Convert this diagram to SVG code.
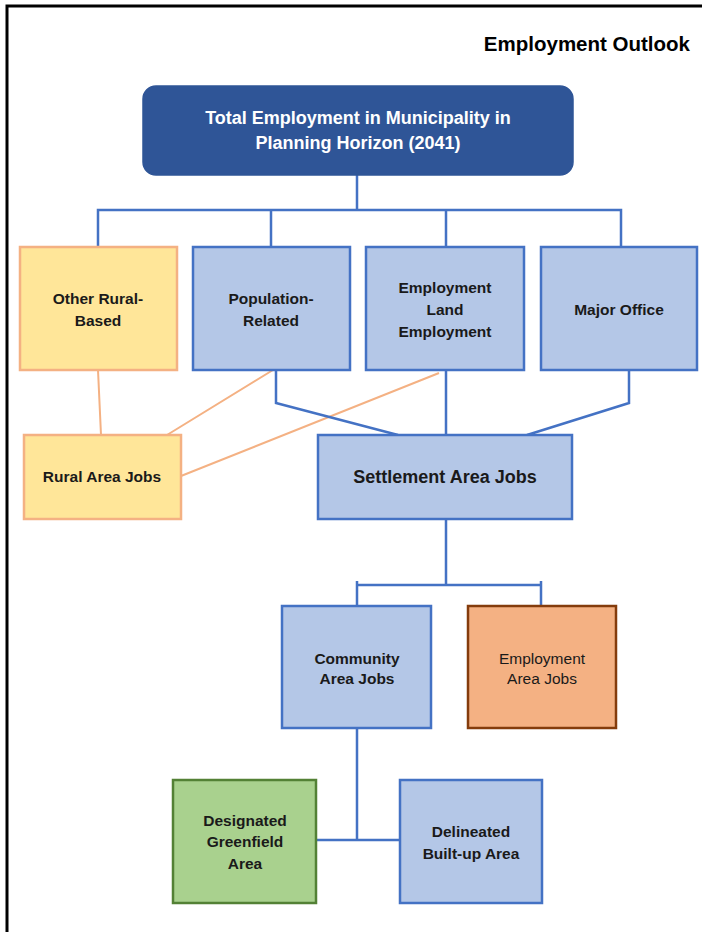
<svg xmlns="http://www.w3.org/2000/svg" width="702" height="932" viewBox="0 0 702 932">
  <style>
    text { font-family: "Liberation Sans", Arial, sans-serif; font-weight: bold; fill: #1a1a1a; text-anchor: middle; }
    .lbl { font-size: 15.5px; }
    .blue { fill: #B4C7E7; stroke: #4472C4; stroke-width: 2.5; }
    .yellow { fill: #FFE699; stroke: #F4B183; stroke-width: 2.5; }
    .orange { fill: #F4B183; stroke: #843C0C; stroke-width: 2.5; }
    .green { fill: #A9D18E; stroke: #538135; stroke-width: 2.5; }
    .link { fill: none; stroke: #4472C4; stroke-width: 2.5; }
    .rural { fill: none; stroke: #F4B183; stroke-width: 2; }
  </style>

  <rect width="702" height="932" fill="#ffffff"/>
  <!-- page frame -->
  <path d="M7 932 V6 H702" fill="none" stroke="#000000" stroke-width="3"/>

  <text x="690" y="51" style="font-size:20.5px; text-anchor:end; fill:#000;">Employment Outlook</text>

  <g id="connectors">
    <path class="link" d="M357 175 V210 M98 247 V210 H621 V247 M271 210 V247 M446 210 V247"/>
    <path class="rural" d="M98 370 L101 435 M273 370 L167 435 M439 373 L181 476"/>
    <path class="link" d="M276 370 V403 L398 435 M446 370 V435 M629 370 V403 L527 435"/>
    <path class="link" d="M446 519 V584 M357 606 V585 H541 V606 M357 581 V589 M541 581 V589"/>
    <path class="link" d="M357 728 V840 M316 840 H400"/>
  </g>

  <g id="total">
    <rect x="143" y="86" width="430" height="89" rx="13" fill="#2F5597" stroke="#2F5597" stroke-width="1.5"/>
    <text x="358" y="124" style="font-size:18px; fill:#ffffff;">Total Employment in Municipality in</text>
    <text x="358" y="149" style="font-size:18px; fill:#ffffff;">Planning Horizon (2041)</text>
  </g>

  <g id="other-rural">
    <rect class="yellow" x="20" y="247" width="157" height="123"/>
    <text class="lbl" x="98" y="304">Other Rural-</text>
    <text class="lbl" x="98" y="326">Based</text>
  </g>

  <g id="population">
    <rect class="blue" x="193" y="247" width="157" height="123"/>
    <text class="lbl" x="271" y="304">Population-</text>
    <text class="lbl" x="271" y="326">Related</text>
  </g>

  <g id="employment-land">
    <rect class="blue" x="366" y="247" width="158" height="123"/>
    <text class="lbl" x="445" y="293">Employment</text>
    <text class="lbl" x="445" y="315">Land</text>
    <text class="lbl" x="445" y="337">Employment</text>
  </g>

  <g id="major-office">
    <rect class="blue" x="541" y="247" width="156" height="123"/>
    <text class="lbl" x="619" y="315">Major Office</text>
  </g>

  <g id="rural-area">
    <rect class="yellow" x="24" y="435" width="157" height="84"/>
    <text class="lbl" x="102" y="482">Rural Area Jobs</text>
  </g>

  <g id="settlement-area">
    <rect class="blue" x="318" y="435" width="254" height="84"/>
    <text x="445" y="483" style="font-size:18px;">Settlement Area Jobs</text>
  </g>

  <g id="community-area">
    <rect class="blue" x="282" y="606" width="149" height="122"/>
    <text class="lbl" x="357" y="664">Community</text>
    <text class="lbl" x="357" y="684">Area Jobs</text>
  </g>

  <g id="employment-area">
    <rect class="orange" x="468" y="606" width="148" height="122"/>
    <text class="lbl" x="542" y="664" style="font-weight:normal;">Employment</text>
    <text class="lbl" x="542" y="684" style="font-weight:normal;">Area Jobs</text>
  </g>

  <g id="greenfield">
    <rect class="green" x="173" y="780" width="143" height="123"/>
    <text class="lbl" x="245" y="826">Designated</text>
    <text class="lbl" x="245" y="847">Greenfield</text>
    <text class="lbl" x="245" y="869">Area</text>
  </g>

  <g id="built-up">
    <rect class="blue" x="400" y="780" width="142" height="123"/>
    <text class="lbl" x="471" y="837">Delineated</text>
    <text class="lbl" x="471" y="859">Built-up Area</text>
  </g>
</svg>
